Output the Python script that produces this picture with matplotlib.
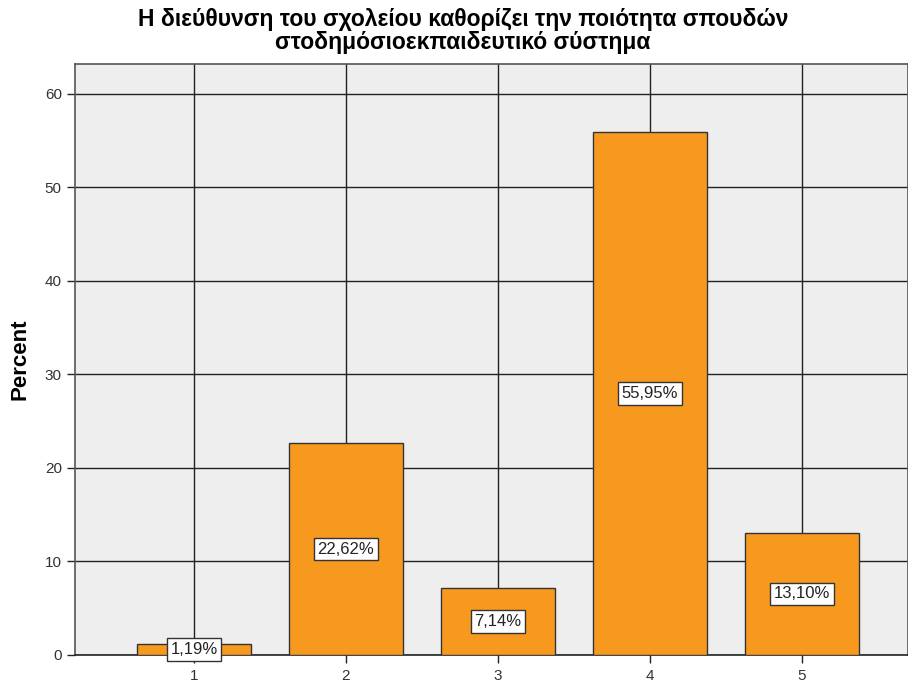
import numpy as np
import matplotlib.pyplot as plt

plt.rcParams['font.family'] = ['Liberation Sans', 'DejaVu Sans']

# data
categories = [1, 2, 3, 4, 5]
percent = [1.19, 22.62, 7.14, 55.95, 13.10]
bar_labels = ['1,19%', '22,62%', '7,14%', '55,95%', '13,10%']
title = 'Η διεύθυνση του σχολείου καθορίζει την ποιότητα σπουδών\nστοδημόσιοεκπαιδευτικό σύστημα'

fig = plt.figure(figsize=(9.08, 6.84), dpi=100)
ax = fig.add_axes([0.0826, 0.0424, 0.9174, 0.8640])
ax.set_facecolor('#eeeeee')

ax.bar(categories, percent, width=0.75, color='#f7981f', edgecolor='#333333',
       linewidth=1.0, zorder=3)

for x, v, lab in zip(categories, percent, bar_labels):
    ax.text(x, v / 2, lab, ha='center', va='center', fontsize=12, color='#222222',
            zorder=4, bbox=dict(boxstyle='square,pad=0.22', fc='white', ec='#333333', lw=1.0))

ax.set_xlim(0.217, 5.70)
ax.set_ylim(0, 63.2)
ax.set_xticks(categories)
ax.set_yticks(np.arange(0, 61, 10))
ax.grid(True, color='#222222', linewidth=1.0, zorder=1)
ax.set_axisbelow(True)

ax.tick_params(axis='both', labelsize=11, labelcolor='#333333', color='#222222',
               length=6, width=1.0)
ax.tick_params(axis='x', pad=4)
for s in ax.spines.values():
    s.set_color('#555555')
    s.set_linewidth(1.2)
ax.spines['bottom'].set_color('#222222')

ax.set_ylabel('Percent', fontsize=16, fontweight='bold', labelpad=10)
fig.text(0.51, 0.988, title, ha='center', va='top', fontsize=16.5, fontweight='bold',
         linespacing=0.98)

fig.savefig('out.png', dpi=100)
